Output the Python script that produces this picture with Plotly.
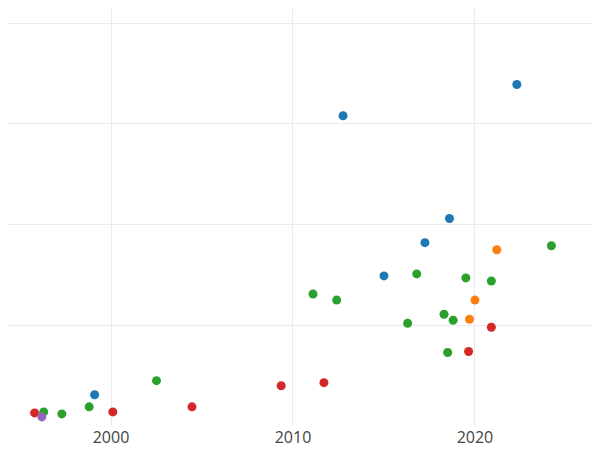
import plotly.graph_objects as go

blue_x = [1999.1, 2012.75, 2022.3, 2018.6, 2017.25, 2015.0]
blue_y = [31, 308, 339, 206, 182, 149]
orange_x = [2021.2, 2020.0, 2019.7]
orange_y = [175, 125, 106]
green_x = [1996.3, 1997.3, 1998.8, 2002.5, 2011.1, 2012.4, 2016.8, 2016.3, 2018.3, 2018.8, 2018.5, 2019.5, 2020.9, 2024.2]
green_y = [14, 12, 19, 45, 131, 125, 151, 102, 111, 105, 73, 147, 144, 179]
red_x = [1995.8, 2000.1, 2004.45, 2009.35, 2011.7, 2019.65, 2020.9]
red_y = [13, 14, 19, 40, 43, 74, 98]
purple_x = [1996.2]
purple_y = [9]

fig = go.Figure()
for xs, ys, c in [(blue_x, blue_y, "#1f77b4"), (orange_x, orange_y, "#ff7f0e"),
                  (green_x, green_y, "#2ca02c"), (red_x, red_y, "#d62728"),
                  (purple_x, purple_y, "#9467bd")]:
    fig.add_trace(go.Scatter(x=xs, y=ys, mode="markers", marker=dict(color=c, size=9)))

fig.update_layout(
    template="plotly_white", width=600, height=450, showlegend=False,
    margin=dict(l=0, r=0, t=0, b=32),
    xaxis=dict(range=[1994.34, 2027.31], tickvals=[2000, 2010, 2020], tickfont=dict(size=16, color="#444"),
               showgrid=True, gridcolor="#ebebeb", zeroline=False),
    yaxis=dict(range=[0, 415], tickvals=[100, 200, 300, 400], showticklabels=False,
               gridcolor="#ebebeb", zeroline=False),
)
fig.write_html("out.html")
